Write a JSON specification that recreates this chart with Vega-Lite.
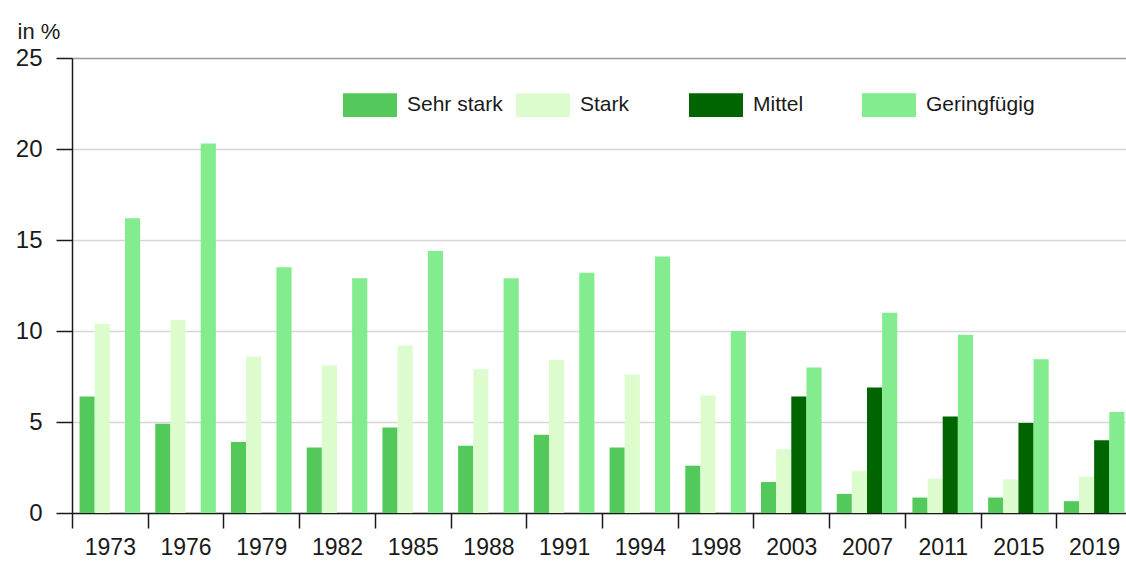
{
  "$schema": "https://vega.github.io/schema/vega-lite/v6.json",
  "width": 1054,
  "height": 455,
  "autosize": {"type": "none"},
  "padding": {"left": 72, "top": 58, "right": 0, "bottom": 50},
  "background": "white",
  "config": {
    "view": {"stroke": null},
    "font": "Liberation Sans"
  },
  "data": {
    "values": [
      {"year": "1973", "cat": "Sehr stark", "v": 6.4},
      {"year": "1973", "cat": "Stark", "v": 10.4},
      {"year": "1973", "cat": "Geringfügig", "v": 16.2},
      {"year": "1976", "cat": "Sehr stark", "v": 4.9},
      {"year": "1976", "cat": "Stark", "v": 10.6},
      {"year": "1976", "cat": "Geringfügig", "v": 20.3},
      {"year": "1979", "cat": "Sehr stark", "v": 3.9},
      {"year": "1979", "cat": "Stark", "v": 8.6},
      {"year": "1979", "cat": "Geringfügig", "v": 13.5},
      {"year": "1982", "cat": "Sehr stark", "v": 3.6},
      {"year": "1982", "cat": "Stark", "v": 8.1},
      {"year": "1982", "cat": "Geringfügig", "v": 12.9},
      {"year": "1985", "cat": "Sehr stark", "v": 4.7},
      {"year": "1985", "cat": "Stark", "v": 9.2},
      {"year": "1985", "cat": "Geringfügig", "v": 14.4},
      {"year": "1988", "cat": "Sehr stark", "v": 3.7},
      {"year": "1988", "cat": "Stark", "v": 7.9},
      {"year": "1988", "cat": "Geringfügig", "v": 12.9},
      {"year": "1991", "cat": "Sehr stark", "v": 4.3},
      {"year": "1991", "cat": "Stark", "v": 8.4},
      {"year": "1991", "cat": "Geringfügig", "v": 13.2},
      {"year": "1994", "cat": "Sehr stark", "v": 3.6},
      {"year": "1994", "cat": "Stark", "v": 7.6},
      {"year": "1994", "cat": "Geringfügig", "v": 14.1},
      {"year": "1998", "cat": "Sehr stark", "v": 2.6},
      {"year": "1998", "cat": "Stark", "v": 6.45},
      {"year": "1998", "cat": "Geringfügig", "v": 10.0},
      {"year": "2003", "cat": "Sehr stark", "v": 1.7},
      {"year": "2003", "cat": "Stark", "v": 3.5},
      {"year": "2003", "cat": "Mittel", "v": 6.4},
      {"year": "2003", "cat": "Geringfügig", "v": 8.0},
      {"year": "2007", "cat": "Sehr stark", "v": 1.05},
      {"year": "2007", "cat": "Stark", "v": 2.3},
      {"year": "2007", "cat": "Mittel", "v": 6.9},
      {"year": "2007", "cat": "Geringfügig", "v": 11.0},
      {"year": "2011", "cat": "Sehr stark", "v": 0.85},
      {"year": "2011", "cat": "Stark", "v": 1.9},
      {"year": "2011", "cat": "Mittel", "v": 5.3},
      {"year": "2011", "cat": "Geringfügig", "v": 9.8},
      {"year": "2015", "cat": "Sehr stark", "v": 0.85},
      {"year": "2015", "cat": "Stark", "v": 1.85},
      {"year": "2015", "cat": "Mittel", "v": 4.95},
      {"year": "2015", "cat": "Geringfügig", "v": 8.45},
      {"year": "2019", "cat": "Sehr stark", "v": 0.65},
      {"year": "2019", "cat": "Stark", "v": 2.0},
      {"year": "2019", "cat": "Mittel", "v": 4.0},
      {"year": "2019", "cat": "Geringfügig", "v": 5.55}
    ]
  },
  "mark": {"type": "bar", "strokeWidth": 0},
  "encoding": {
    "x": {
      "field": "year",
      "type": "nominal",
      "sort": null,
      "scale": {"range": [0, 1060], "paddingInner": 0, "paddingOuter": 0},
      "axis": {
        "title": null,
        "labelAngle": 0,
        "labelFontSize": 23,
        "labelColor": "#1a1a1a",
        "labelPadding": 8,
        "tickBand": "extent",
        "tickSize": 15,
        "tickColor": "#1a1a1a",
        "tickWidth": 1.5,
        "domainColor": "#1a1a1a",
        "domainWidth": 1.5,
        "grid": false
      }
    },
    "xOffset": {
      "field": "cat",
      "type": "nominal",
      "sort": ["Sehr stark", "Stark", "Mittel", "Geringfügig"],
      "scale": {"paddingInner": 0, "paddingOuter": 0.5}
    },
    "y": {
      "field": "v",
      "type": "quantitative",
      "scale": {"domain": [0, 25], "nice": false},
      "axis": {
        "values": [0, 5, 10, 15, 20, 25],
        "title": "in %",
        "titleAngle": 0,
        "titleAlign": "left",
        "titleBaseline": "alphabetic",
        "titleX": -55,
        "titleY": -20,
        "titleFontSize": 22,
        "titleFontWeight": "normal",
        "titleColor": "#1a1a1a",
        "labelFontSize": 24,
        "labelColor": "#1a1a1a",
        "labelPadding": 14,
        "tickSize": 16,
        "tickColor": "#1a1a1a",
        "tickWidth": 1.5,
        "domainColor": "#1a1a1a",
        "domainWidth": 1.5,
        "grid": true,
        "gridColor": {"condition": {"test": "datum.value === 25", "value": "#9a9a9a"}, "value": "#d6d6d6"},
        "gridWidth": 1.5
      }
    },
    "color": {
      "field": "cat",
      "type": "nominal",
      "sort": ["Sehr stark", "Stark", "Mittel", "Geringfügig"],
      "scale": {
        "domain": ["Sehr stark", "Stark", "Mittel", "Geringfügig"],
        "range": ["#54c95b", "#dcfcce", "#006400", "#82ec8e"]
      },
      "legend": {
        "title": null,
        "orient": "none",
        "legendX": 271,
        "legendY": 20,
        "direction": "horizontal",
        "columns": 4,
        "gridAlign": "all",
        "columnPadding": 0,
        "symbolType": "M-1,-0.44H1V0.44H-1Z",
        "symbolSize": 2916,
        "symbolStrokeWidth": 0,
        "symbolOpacity": 1,
        "labelOffset": 10,
        "labelFontSize": 21,
        "labelColor": "#1a1a1a",
        "labelLimit": 200
      }
    }
  }
}
